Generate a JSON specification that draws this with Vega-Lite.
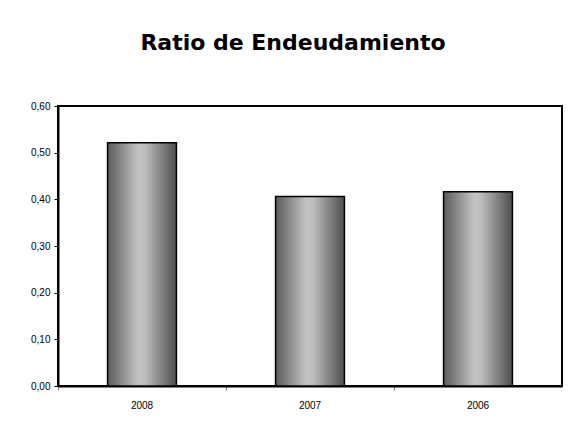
{
  "$schema": "https://vega.github.io/schema/vega-lite/v6.json",
  "width": 504,
  "height": 280,
  "autosize": "none",
  "padding": {"left": 58, "top": 106, "right": 7, "bottom": 42},
  "background": "#ffffff",
  "title": {
    "text": "Ratio de Endeudamiento",
    "font": "DejaVu Sans",
    "fontSize": 22,
    "fontWeight": "bold",
    "color": "#000000",
    "anchor": "middle",
    "frame": "group",
    "baseline": "alphabetic",
    "offset": 29,
    "dx": -17
  },
  "data": {
    "values": [
      {"year": "2008", "ratio": 0.5215},
      {"year": "2007", "ratio": 0.406},
      {"year": "2006", "ratio": 0.4165}
    ]
  },
  "mark": {
    "type": "bar",
    "width": {"band": 0.41},
    "stroke": "#000000",
    "strokeWidth": 1.5,
    "color": {
      "gradient": "linear",
      "x1": 0, "x2": 1, "y1": 0, "y2": 0,
      "stops": [
        {"offset": 0, "color": "#5c5c5c"},
        {"offset": 0.45, "color": "#c4c4c4"},
        {"offset": 0.55, "color": "#bcbcbc"},
        {"offset": 1, "color": "#4c4c4c"}
      ]
    }
  },
  "encoding": {
    "x": {
      "field": "year",
      "type": "nominal",
      "sort": null,
      "scale": {"paddingInner": 0, "paddingOuter": 0},
      "axis": {
        "title": null,
        "labelAngle": 0,
        "labelFont": "Liberation Sans",
        "labelFontSize": 10,
        "labelColor": "#000000",
        "labelPadding": 10,
        "bandPosition": 0,
        "ticks": true,
        "tickSize": 4,
        "tickColor": "#808080",
        "domainColor": "#000000",
        "domainWidth": 2
      }
    },
    "y": {
      "field": "ratio",
      "type": "quantitative",
      "scale": {"domain": [0, 0.6], "nice": false},
      "axis": {
        "title": null,
        "values": [0, 0.1, 0.2, 0.3, 0.4, 0.5, 0.6],
        "labelExpr": "replace(format(datum.value, '.2f'), '.', ',')",
        "labelFont": "Liberation Sans",
        "labelFontSize": 10,
        "labelColor": "#000000",
        "labelPadding": 4,
        "tickSize": 4,
        "tickColor": "#000000",
        "domainColor": "#000000",
        "domainWidth": 2,
        "grid": false
      }
    }
  },
  "config": {
    "view": {"stroke": "#000000", "strokeWidth": 2, "fill": "#ffffff"}
  }
}
